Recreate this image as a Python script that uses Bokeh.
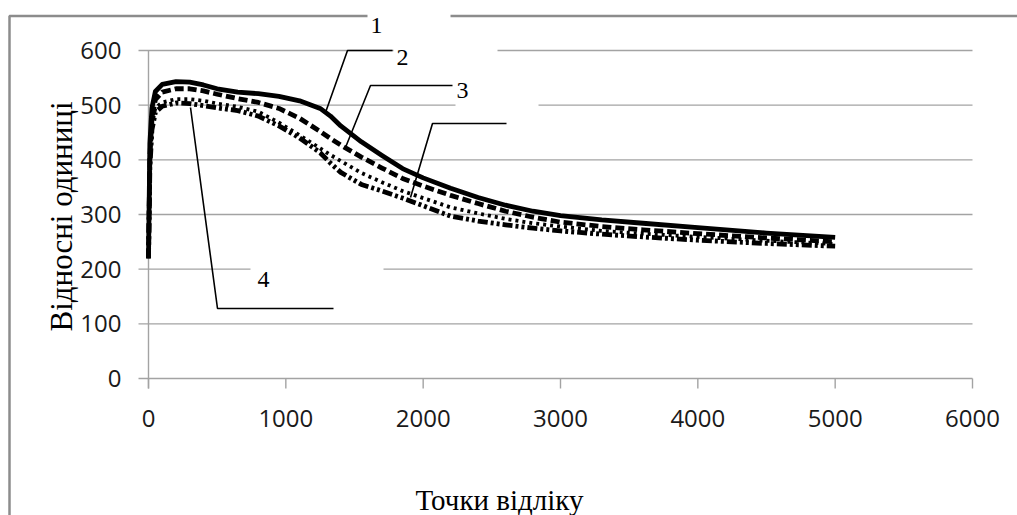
from bokeh.plotting import figure
from bokeh.models import Range1d
from bokeh.core.properties import value
from bokeh.embed import file_html
from bokeh.resources import INLINE

# ---------------- data ----------------
x_points = [0, 10, 25, 50, 100, 200, 300, 400, 500, 650, 800, 950, 1100, 1250,
            1325, 1400, 1550, 1700, 1850, 2000, 2200, 2400, 2600, 2800, 3000,
            3300, 3600, 4000, 4500, 5000]
curve1 = [220, 430, 495, 525, 538, 543, 542, 537, 530, 524, 521, 516, 508, 494,
          480, 462, 433, 408, 384, 367, 348, 331, 317, 306, 298, 290, 284, 276, 266, 258]
curve2 = [220, 405, 475, 510, 524, 530, 530, 526, 520, 512, 505, 494, 476, 452,
          439, 427, 405, 385, 366, 352, 335, 320, 306, 295, 286, 278, 272, 265, 257, 250]
curve3 = [220, 395, 465, 495, 505, 511, 511, 508, 503, 497, 488, 468, 445, 421,
          409, 398, 376, 359, 343, 330, 313, 302, 292, 284, 278, 270, 265, 259, 252, 246]
curve4 = [220, 385, 455, 487, 498, 504, 503, 499, 495, 490, 480, 462, 440, 413,
          394, 377, 355, 343, 330, 316, 297, 288, 281, 275, 270, 264, 259, 253, 247, 242]

x_ticks = [0, 1000, 2000, 3000, 4000, 5000, 6000]
y_ticks = [0, 100, 200, 300, 400, 500, 600]
x_title = "Точки відліку"
y_title = "Відносні одиниці"
curve_labels = ["1", "2", "3", "4"]

# ---------------- layout (picture pixel geometry) ----------------
W, H = 1017, 515
OFF = 0
PL, PR, PT, PB = 148, 972, 50, 378  # plot area in picture px
x_per_px = (x_ticks[-1] - x_ticks[0]) / (PR - PL)
y_per_px = (y_ticks[-1] - y_ticks[0]) / (PB - PT)
x_start = x_ticks[0] - (PL - OFF) * x_per_px
x_end = x_start + W * x_per_px
y_end = y_ticks[-1] + (PT - OFF) * y_per_px
y_start = y_end - H * y_per_px


def cx(px):
    return x_start + (px - OFF) * x_per_px


def cy(py):
    return y_end - (py - OFF) * y_per_px


p = figure(width=W, height=H, x_range=Range1d(x_start, x_end),
           y_range=Range1d(y_start, y_end), output_backend="svg",
           toolbar_location=None, x_axis_type=None, y_axis_type=None,
           min_border=0)
p.outline_line_color = None
p.background_fill_color = "white"
p.border_fill_color = "white"

GRID = "#a3a3a3"
# horizontal grid lines + y ticks
p.segment(x0=[cx(138)] * len(y_ticks), y0=y_ticks,
          x1=[x_ticks[-1]] * len(y_ticks), y1=y_ticks,
          line_color=GRID, line_width=1.4)
# y axis line
p.segment(x0=[x_ticks[0]], y0=[cy(388)], x1=[x_ticks[0]], y1=[y_ticks[-1]],
          line_color=GRID, line_width=1.4)
# x ticks
p.segment(x0=x_ticks, y0=[y_ticks[0]] * len(x_ticks), x1=x_ticks,
          y1=[cy(388)] * len(x_ticks), line_color=GRID, line_width=1.4)

# outer chart frame (top and left edges)
p.line(x=[cx(9), cx(9), cx(1020)], y=[cy(520), cy(15.5), cy(15.5)],
       line_color="#8c8c8c", line_width=2.5)

# white callout boxes (occlude grid / frame)
boxes = [(367, 450, 8, 40), (393, 497, 40, 70), (455, 538, 72, 108), (250, 383, 262, 296)]
p.quad(left=[cx(b[0]) for b in boxes], right=[cx(b[1]) for b in boxes],
       top=[cy(b[2]) for b in boxes], bottom=[cy(b[3]) for b in boxes],
       fill_color="white", line_color=None)

# curves
p.line(x_points, curve1, line_color="black", line_width=4.8, line_join="round")
p.line(x_points, curve2, line_color="black", line_width=4.8, line_dash="9 4",
       line_join="round")
p.line(x_points, curve3, line_color="black", line_width=3.8, line_dash="3 4",
       line_join="round")
p.line(x_points, curve4, line_color="black", line_width=4.8,
       line_dash="10 3 3 3 3 3", line_join="round")

# callout leader lines
leaders = [
    [(325, 112), (347, 50), (392, 50)],
    [(345, 147), (370, 85), (452, 85)],
    [(410, 197), (432, 123), (506, 123)],
    [(190, 107), (217, 308), (333, 308)],
]
p.multi_line(xs=[[cx(a) for a, b in L] for L in leaders],
             ys=[[cy(b) for a, b in L] for L in leaders],
             line_color="black", line_width=1.6)

label_pos = [(376, 25), (402, 57), (462, 90), (263, 279)]
p.text(x=[cx(a) for a, b in label_pos], y=[cy(b) for a, b in label_pos],
       text=curve_labels, text_font=value("Liberation Serif"),
       text_font_size="24px", text_align="center", text_baseline="middle",
       text_color="black")

# tick labels
p.text(x=[cx(121)] * len(y_ticks), y=y_ticks, text=[str(v) for v in y_ticks],
       text_font=value("Open Sans"), text_font_size="24px", text_align="right",
       text_baseline="middle", text_color="#1a1a1a")
p.text(x=x_ticks, y=[cy(418)] * len(x_ticks), text=[str(v) for v in x_ticks],
       text_font=value("Open Sans"), text_font_size="24px", text_align="center",
       text_baseline="middle", text_color="#1a1a1a")

# axis titles
p.text(x=[cx(499)], y=[cy(499)], text=[x_title], text_font=value("Liberation Serif"),
       text_font_size="29px", text_align="center", text_baseline="alphabetic",
       text_color="black")
p.text(x=[cx(61)], y=[cy(216)], text=[y_title], text_font=value("Liberation Serif"),
       text_font_size="31px", text_align="center", text_baseline="middle",
       text_color="black", angle=1.5708)

open("out.html", "w").write(file_html(p, INLINE))
